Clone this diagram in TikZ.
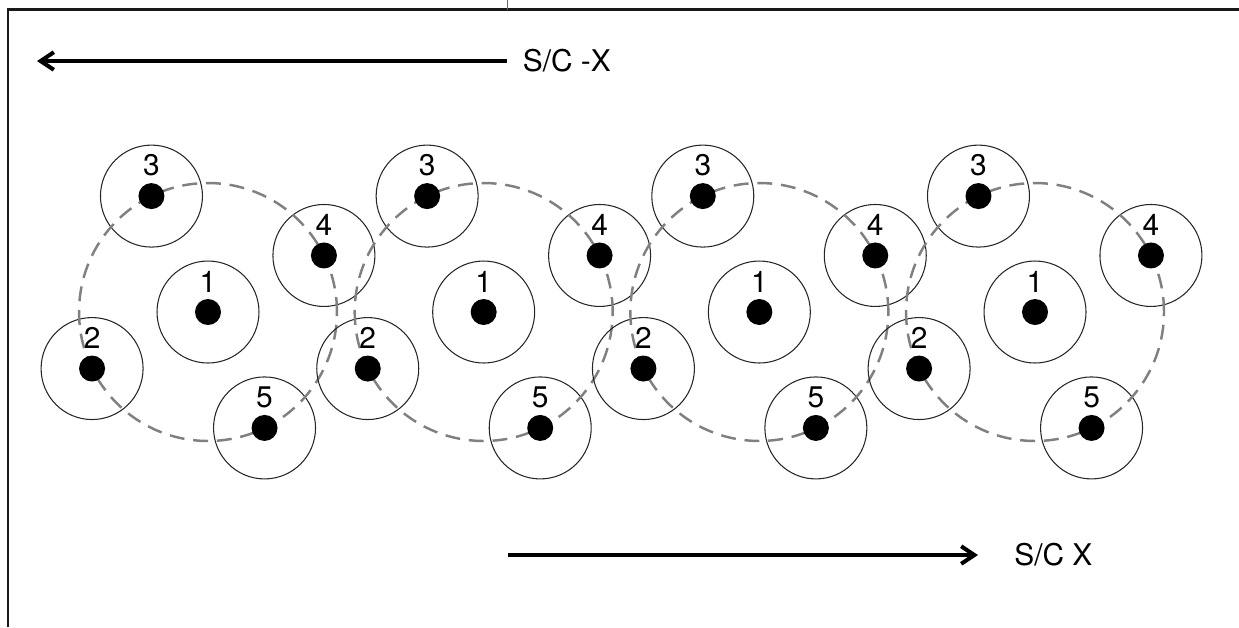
\documentclass[tikz,border=0pt]{standalone}
\usepackage{fontspec}
\setmainfont{TeX Gyre Heros}
\usetikzlibrary{arrows.meta,positioning}
\tikzset{
	frame/.style={line width=1.5pt, draw=black!90},
	tickmark/.style={line width=0.4pt, draw=black!60},
	sensor/.style={circle, draw=black!85, line width=0.6pt, minimum size=2.04cm, inner sep=0},
	spot/.style={circle, fill=black, minimum size=0.52cm, inner sep=0},
	num/.style={inner sep=0, font=\fontsize{17}{20}\selectfont},
	track/.style={draw=black!50, line width=1.4pt, dash pattern=on 8.5pt off 5pt},
	dirarrow/.style={line width=2.3pt, -{Straight Barb[length=7.5pt,width=10pt]}},
	axislabel/.style={inner sep=0, font=\fontsize{17}{20}\selectfont}
}
\begin{document}
\begin{tikzpicture}[x=0.02cm, y=-0.02cm]
	\useasboundingbox (0,0) rectangle (1239,627);
	% Rahmen
	\draw[frame] (8,627) -- (8,9.5) -- (1239,9.5);
	\draw[tickmark] (507,0) -- (507,9.5);
	% Gruppen mit je fuenf Sensoren
	\foreach \g in {0,...,3} {
		\pgfmathsetmacro{\cx}{208+275.67*\g}
		\coordinate (c\g) at (\cx, 312);
		\node[sensor] (s\g-1) at (c\g) {};
		\foreach \k/\a in {4/26,3/116,2/206,5/296}
			\node[sensor] (s\g-\k) at ([shift={(\a:2.58cm)}]c\g) {};
		\draw[track] (c\g) circle (2.58cm);
		\foreach \k in {1,...,5}
			\node[spot, label={[num, label distance=0.12cm]above:\k}] (p\g-\k) at (s\g-\k) {};
	}
	% Flugrichtung -X
	\coordinate (mxstart) at (507,61);
	\coordinate (mxend) at (37,61);
	\node[axislabel, right=0.31cm of mxstart] (mxlabel) {S/C -X};
	\draw[dirarrow] (mxstart) -- (mxend);
	% Flugrichtung X
	\coordinate (pxstart) at (508,555);
	\coordinate (pxend) at (978,555);
	\node[axislabel, right=0.72cm of pxend] (pxlabel) {S/C X};
	\draw[dirarrow] (pxstart) -- (pxend);
\end{tikzpicture}
\end{document}
